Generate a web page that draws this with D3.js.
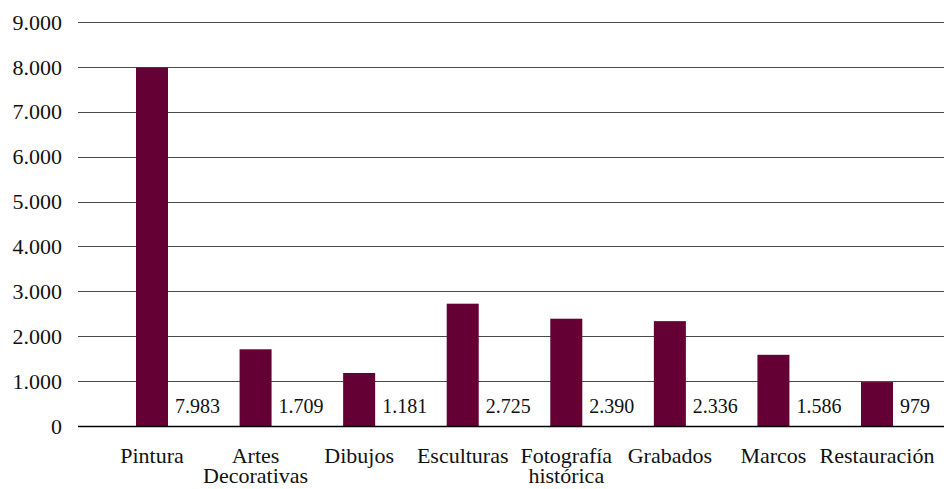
<!DOCTYPE html>
<html>
<head>
<meta charset="utf-8">
<script src="https://cdn.jsdelivr.net/npm/d3@7"></script>
<style>
  html, body { margin: 0; padding: 0; background: #fff; }
  svg { display: block; }
</style>
</head>
<body>
<svg id="chart" width="944" height="489"></svg>
<script>
const categories = ["Pintura", "Artes Decorativas", "Dibujos", "Esculturas", "Fotografía histórica", "Grabados", "Marcos", "Restauración"];
const categoryLines = [["Pintura"], ["Artes", "Decorativas"], ["Dibujos"], ["Esculturas"], ["Fotografía", "histórica"], ["Grabados"], ["Marcos"], ["Restauración"]];
const values = [7983, 1709, 1181, 2725, 2390, 2336, 1586, 979];
const yTicks = [0, 1000, 2000, 3000, 4000, 5000, 6000, 7000, 8000, 9000];

(function () {
const fmt = v => d3.format(",")(v).replace(/,/g, ".");
const FONT = "'Liberation Serif', 'Times New Roman', 'DejaVu Serif', serif";

const svg = d3.select("#chart");
const mLeft = 78, mRight = 944, mTop = 22, mBottom = 426;

const y = d3.scaleLinear().domain([0, 9000]).range([mBottom, mTop]);
const x = d3.scaleBand()
  .domain(categories)
  .range([mLeft, 951])
  .paddingInner(0.691)
  .paddingOuter(0.56);

// gridlines
svg.append("g").selectAll("line")
  .data(yTicks.filter(t => t > 0))
  .join("line")
  .attr("x1", mLeft).attr("x2", mRight)
  .attr("y1", d => Math.round(y(d)) + 0.5)
  .attr("y2", d => Math.round(y(d)) + 0.5)
  .attr("stroke", "#4a4a4a").attr("stroke-width", 1);

// y tick labels
svg.append("g").selectAll("text")
  .data(yTicks)
  .join("text")
  .attr("x", 62)
  .attr("y", d => y(d))
  .attr("dy", "0.35em")
  .attr("text-anchor", "end")
  .style("font-family", FONT)
  .attr("fill", "#111")
  .attr("font-size", 22)
  .text(d => fmt(d));

// bars
svg.append("g").selectAll("rect")
  .data(values)
  .join("rect")
  .attr("x", (d, i) => x(categories[i]))
  .attr("width", x.bandwidth())
  .attr("y", d => y(d))
  .attr("height", d => y(0) - y(d))
  .attr("fill", "#650035");

// baseline
svg.append("line")
  .attr("x1", mLeft).attr("x2", mRight)
  .attr("y1", Math.round(y(0)) + 0.5).attr("y2", Math.round(y(0)) + 0.5)
  .attr("stroke", "#000").attr("stroke-width", 1.3);

// value labels
svg.append("g").selectAll("text")
  .data(values)
  .join("text")
  .attr("x", (d, i) => x(categories[i]) + x.bandwidth() + 7)
  .attr("y", y(0) - 13)
  .style("font-family", FONT)
  .attr("fill", "#111")
  .attr("font-size", 20)
  .text(d => fmt(d));

// category labels
const cat = svg.append("g").selectAll("text")
  .data(categories)
  .join("text")
  .attr("x", d => x(d) + x.bandwidth() / 2)
  .attr("y", 463)
  .attr("text-anchor", "middle")
  .style("font-family", FONT)
  .attr("fill", "#111")
  .attr("font-size", 22);
cat.each(function(d, i) {
  const t = d3.select(this);
  categoryLines[i].forEach((line, j) => {
    t.append("tspan")
      .attr("x", x(d) + x.bandwidth() / 2)
      .attr("dy", j === 0 ? 0 : 20)
      .text(line);
  });
});
})();
</script>
</body>
</html>
